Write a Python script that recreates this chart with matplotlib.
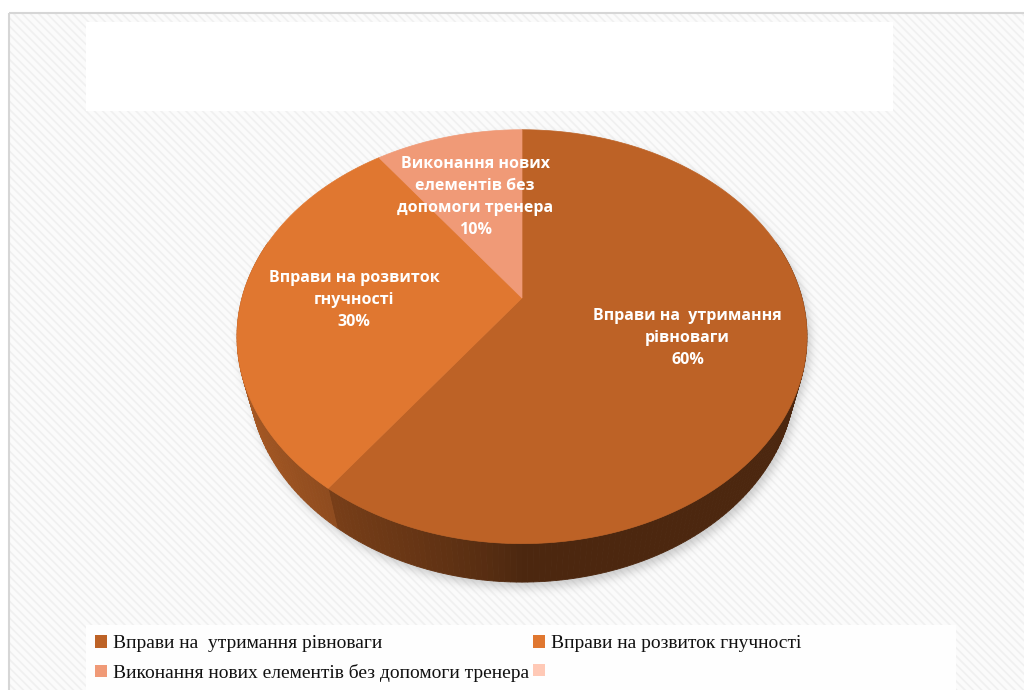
import numpy as np
import matplotlib
matplotlib.use("Agg")
import matplotlib.pyplot as plt
from matplotlib.patches import Polygon, Rectangle, Patch
from matplotlib.path import Path

# chart data
labels = ["Вправи на  утримання рівноваги",
          "Вправи на розвиток гнучності",
          "Виконання нових елементів без допомоги тренера",
          ""]
label_lines = ["Вправи на  утримання\nрівноваги",
               "Вправи на розвиток\nгнучності",
               "Виконання нових\nелементів без\nдопомоги тренера",
               ""]
values = [60, 30, 10, 0]
colors = ["#BD6226", "#E07730", "#F09A77", "#FFC9B6"]

W, H = 1024, 690

# 3d pie view
cx, cy = 522, 298      # pie centre on the top face
R = 280                # radius
tilt = np.radians(45.5)
D = 3.75               # camera distance (perspective)
thick = 0.22           # pie height in radius units


def project(X, Y, Z):
    X, Y, Z = np.asarray(X, float), np.asarray(Y, float), np.asarray(Z, float)
    yv = Y * np.sin(tilt) + Z * np.cos(tilt)
    w = Y * np.cos(tilt) - Z * np.sin(tilt)
    f = D / (D + w)
    return cx + R * X * f, cy - R * yv * f


fig = plt.figure(figsize=(W / 100, H / 100), dpi=100)
ax = fig.add_axes([0, 0, 1, 1])
ax.set_xlim(0, W)
ax.set_ylim(H, 0)
ax.axis("off")

# chart area background with diagonal texture
plt.rcParams["hatch.linewidth"] = 1.2
ax.add_patch(Rectangle((8.5, 12.5), W, H, facecolor="#FBFBFB", edgecolor="#F0F0F0",
                       hatch="\\\\\\\\", lw=0, zorder=0))
ax.add_patch(Rectangle((8.5, 12.5), W, H, facecolor="none", edgecolor="#D6D6D6",
                       lw=1.5, zorder=1))
# empty title box and legend box
ax.add_patch(Rectangle((86, 22), 807, 89, facecolor="white", lw=0, zorder=1))
ax.add_patch(Rectangle((86, 625), 870, 70, facecolor="#FEFEFE", lw=0, zorder=1))

# slice angles, clockwise from 12 o'clock
total = sum(values)
starts, ends = [], []
a = 90.0
for v in values:
    starts.append(a)
    a -= 360.0 * v / total
    ends.append(a)

# soft shadow under the pie
th = np.radians(np.linspace(0, 360, 361))
top_x, top_y = project(np.cos(th), np.sin(th), 0 * th)
bot_x, bot_y = project(np.cos(th), np.sin(th), -thick + 0 * th)
gx, gy = np.meshgrid(np.arange(W), np.arange(H))
pts = np.column_stack([gx.ravel(), gy.ravel()])
mask = np.zeros(W * H)
for xs, ys in [(top_x, top_y), (bot_x, bot_y)]:
    mask = np.maximum(mask, Path(np.column_stack([xs + 3, ys + 5])).contains_points(pts))
mask = mask.reshape(H, W)
k = np.ones(9) / 9
for _ in range(3):
    mask = np.apply_along_axis(lambda r: np.convolve(r, k, mode="same"), 1, mask)
    mask = np.apply_along_axis(lambda c: np.convolve(c, k, mode="same"), 0, mask)
shadow = np.zeros((H, W, 4))
shadow[..., :3] = 0.45
shadow[..., 3] = mask * 0.35
ax.imshow(shadow, extent=(0, W, H, 0), zorder=2, interpolation="bilinear")

# side wall, shaded by direction
for i, v in enumerate(values):
    if v == 0:
        continue
    base = np.array(matplotlib.colors.to_rgb(colors[i]))
    angs = np.linspace(starts[i], ends[i], max(int(abs(starts[i] - ends[i])), 2) + 1)
    for a0, a1 in zip(angs[:-1], angs[1:]):
        t = np.radians([a0, a1])
        if np.sin(t).mean() > 0.3:
            continue
        x0, y0 = project(np.cos(t), np.sin(t), [0, 0])
        x1, y1 = project(np.cos(t), np.sin(t), [-thick, -thick])
        tm = np.radians((a0 + a1) / 2)
        shade = 0.40 + 0.36 * max(0.0, -np.cos(tm)) ** 0.8
        c = np.clip(base * shade, 0, 1)
        ax.add_patch(Polygon([(x0[0], y0[0]), (x0[1], y0[1]), (x1[1], y1[1]), (x1[0], y1[0])],
                             closed=True, facecolor=c, edgecolor=c, lw=0.6, zorder=3))

# top faces
for i, v in enumerate(values):
    if v == 0:
        continue
    t = np.radians(np.linspace(starts[i], ends[i], 200))
    xs, ys = project(np.cos(t), np.sin(t), 0 * t)
    poly = [(cx, cy)] + list(zip(xs, ys))
    ax.add_patch(Polygon(poly, closed=True, facecolor=colors[i], edgecolor=colors[i],
                         lw=0.5, zorder=4))

# data labels
for i, v in enumerate(values):
    if v == 0:
        continue
    mid = np.radians((starts[i] + ends[i]) / 2)
    lx, ly = project(0.6 * np.cos(mid), 0.6 * np.sin(mid), 0)
    ax.text(lx, ly + 2, f"{label_lines[i]}\n{v}%", ha="center", va="center",
            color="white", fontsize=11.5, fontweight="bold", linespacing=1.5,
            family=["Open Sans", "DejaVu Sans"], zorder=5)

# legend
handles = [Patch(facecolor=colors[i], edgecolor="none", label=labels[i]) for i in range(4)]
order = [0, 2, 1, 3]
leg = fig.legend([handles[i] for i in order], [labels[i] for i in order],
                 ncol=2, loc="upper left", bbox_to_anchor=(95 / W, 1 - 635 / H),
                 frameon=False, handlelength=0.62, handleheight=0.62, handletextpad=0.3,
                 columnspacing=0.2, labelspacing=0.6, borderaxespad=0, borderpad=0,
                 prop={"family": "Liberation Serif", "size": 14})
for t in leg.get_texts():
    t.set_color("#111111")

fig.savefig("out.png", dpi=100)
